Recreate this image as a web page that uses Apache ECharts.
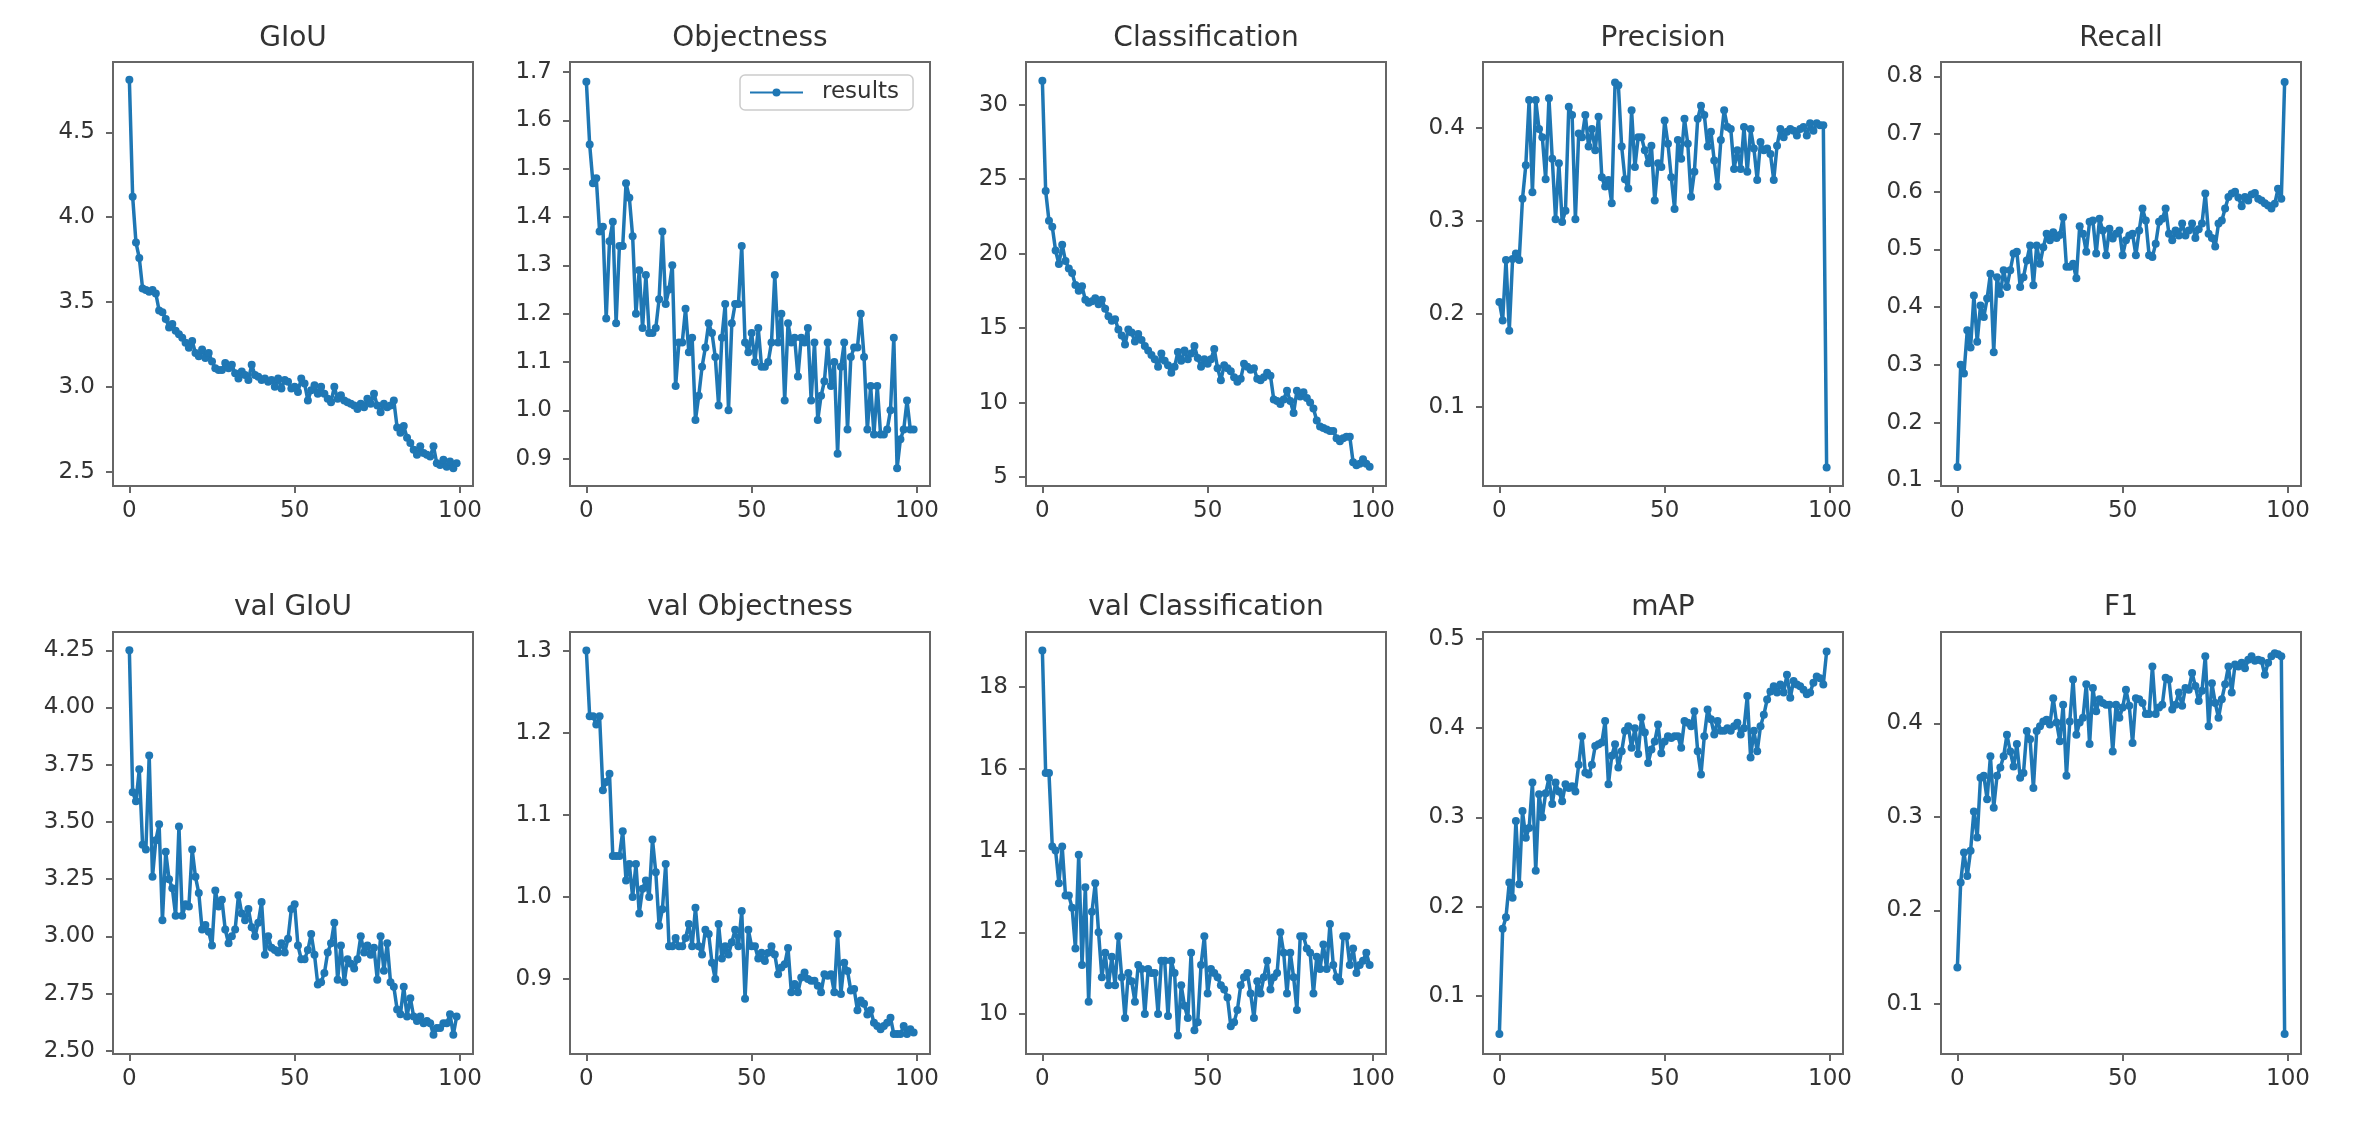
<!DOCTYPE html>
<html>
<head>
<meta charset="utf-8">
<script src="https://cdn.jsdelivr.net/npm/echarts@6/dist/echarts.min.js"></script>
<style>
html,body{margin:0;padding:0;background:#fff;}
#chart{width:2353px;height:1142px;}
</style>
</head>
<body>
<div id="chart"></div>
<script>
// ---------- data ----------
const titles = ['GIoU','Objectness','Classification','Precision','Recall',
                'val GIoU','val Objectness','val Classification','mAP','F1'];
const epochs = Array.from({length: 100}, (_, i) => i);
const xTicks = [0, 50, 100];
const xRange = [-4.95, 103.95];

const giou = [4.81,4.12,3.85,3.76,3.58,3.57,3.56,3.57,3.55,3.45,
 3.44,3.40,3.35,3.37,3.33,3.31,3.29,3.26,3.23,3.27,
 3.20,3.18,3.22,3.17,3.20,3.15,3.11,3.10,3.10,3.14,
 3.11,3.13,3.08,3.05,3.09,3.07,3.04,3.13,3.07,3.06,
 3.04,3.05,3.03,3.04,3.00,3.05,2.99,3.04,3.03,2.99,
 3.00,2.97,3.05,3.02,2.92,2.98,3.01,2.96,3.00,2.96,
 2.93,2.91,3.00,2.93,2.95,2.92,2.91,2.90,2.89,2.87,
 2.90,2.88,2.93,2.90,2.96,2.89,2.85,2.90,2.88,2.89,
 2.92,2.76,2.73,2.77,2.70,2.67,2.63,2.60,2.65,2.61,
 2.60,2.59,2.65,2.55,2.54,2.57,2.53,2.56,2.52,2.55];

const objectness = [1.68,1.55,1.47,1.48,1.37,1.38,1.19,1.35,1.39,1.18,
 1.34,1.34,1.47,1.44,1.36,1.20,1.29,1.17,1.28,1.16,
 1.16,1.17,1.23,1.37,1.22,1.25,1.30,1.05,1.14,1.14,
 1.21,1.12,1.15,0.98,1.03,1.09,1.13,1.18,1.16,1.11,
 1.01,1.15,1.22,1.00,1.18,1.22,1.22,1.34,1.14,1.12,
 1.16,1.10,1.17,1.09,1.09,1.10,1.14,1.28,1.14,1.20,
 1.02,1.18,1.14,1.15,1.07,1.15,1.14,1.17,1.02,1.14,
 0.98,1.03,1.06,1.14,1.05,1.10,0.91,1.09,1.14,0.96,
 1.11,1.13,1.13,1.20,1.11,0.96,1.05,0.95,1.05,0.95,
 0.95,0.96,1.00,1.15,0.88,0.94,0.96,1.02,0.96,0.96];

const classification = [31.6,24.2,22.2,21.8,20.2,19.3,20.6,19.5,19.0,18.7,
 17.9,17.5,17.8,16.9,16.7,16.8,17.0,16.6,16.9,16.3,
 15.8,15.5,15.6,14.9,14.5,13.9,14.9,14.7,14.1,14.6,
 14.2,13.8,13.5,13.2,12.9,12.4,13.3,12.8,12.5,12.0,
 12.4,13.4,12.8,13.5,12.9,13.3,13.8,13.0,12.4,12.9,
 12.6,12.9,13.6,12.3,11.5,12.5,12.3,12.1,11.7,11.4,
 11.6,12.6,12.4,12.2,12.3,11.6,11.5,11.7,12.0,11.8,
 10.2,10.1,9.9,10.2,10.8,10.1,9.3,10.8,10.4,10.7,
 10.3,10.0,9.6,8.8,8.4,8.3,8.2,8.1,8.1,7.6,
 7.4,7.6,7.7,7.7,6.0,5.8,5.9,6.2,5.9,5.7];

const precision = [0.213,0.193,0.258,0.182,0.259,0.265,0.258,0.324,0.360,0.430,
 0.331,0.430,0.399,0.390,0.345,0.432,0.367,0.302,0.362,0.299,
 0.311,0.423,0.414,0.302,0.394,0.390,0.414,0.380,0.399,0.376,
 0.412,0.347,0.337,0.344,0.319,0.449,0.446,0.380,0.345,0.335,
 0.419,0.358,0.390,0.390,0.376,0.362,0.381,0.322,0.362,0.358,
 0.408,0.383,0.347,0.313,0.387,0.367,0.410,0.383,0.326,0.353,
 0.410,0.424,0.414,0.380,0.396,0.365,0.337,0.387,0.419,0.401,
 0.399,0.356,0.376,0.356,0.401,0.353,0.399,0.378,0.344,0.385,
 0.376,0.378,0.372,0.344,0.381,0.399,0.390,0.396,0.399,0.397,
 0.392,0.399,0.401,0.392,0.405,0.397,0.405,0.403,0.403,0.035];

const recall = [0.123,0.300,0.285,0.360,0.330,0.420,0.340,0.403,0.383,0.415,
 0.458,0.322,0.452,0.423,0.464,0.435,0.464,0.493,0.496,0.435,
 0.452,0.481,0.507,0.438,0.507,0.475,0.504,0.527,0.516,0.530,
 0.520,0.525,0.556,0.470,0.470,0.475,0.450,0.540,0.527,0.496,
 0.548,0.550,0.493,0.553,0.533,0.490,0.536,0.519,0.527,0.533,
 0.490,0.516,0.524,0.527,0.490,0.533,0.571,0.550,0.490,0.487,
 0.510,0.548,0.553,0.571,0.527,0.516,0.533,0.524,0.545,0.524,
 0.533,0.545,0.520,0.535,0.545,0.597,0.527,0.520,0.505,0.545,
 0.550,0.571,0.591,0.597,0.600,0.590,0.575,0.591,0.585,0.595,
 0.598,0.588,0.585,0.580,0.576,0.571,0.579,0.605,0.588,0.790];

const valGiou = [4.25,3.63,3.59,3.73,3.40,3.38,3.79,3.26,3.42,3.49,
 3.07,3.37,3.25,3.21,3.09,3.48,3.09,3.14,3.13,3.38,
 3.26,3.19,3.03,3.05,3.02,2.96,3.20,3.13,3.16,3.03,
 2.97,3.00,3.03,3.18,3.10,3.07,3.12,3.04,3.00,3.06,
 3.15,2.92,3.00,2.95,2.94,2.93,2.97,2.93,2.99,3.12,
 3.14,2.96,2.90,2.90,2.94,3.01,2.92,2.79,2.80,2.84,
 2.93,2.97,3.06,2.81,2.96,2.80,2.90,2.88,2.86,2.90,
 3.00,2.93,2.96,2.92,2.95,2.81,3.00,2.85,2.97,2.80,
 2.78,2.68,2.66,2.78,2.65,2.73,2.65,2.63,2.65,2.62,
 2.63,2.62,2.57,2.60,2.60,2.62,2.62,2.66,2.57,2.65];

const valObjectness = [1.300,1.220,1.220,1.210,1.220,1.130,1.140,1.150,1.050,1.050,
 1.050,1.080,1.020,1.040,1.000,1.040,0.980,1.010,1.020,1.000,
 1.070,1.030,0.965,0.985,1.040,0.940,0.940,0.950,0.940,0.940,
 0.950,0.967,0.940,0.987,0.940,0.930,0.960,0.955,0.920,0.900,
 0.967,0.925,0.940,0.930,0.945,0.960,0.940,0.983,0.876,0.960,
 0.940,0.940,0.925,0.932,0.922,0.932,0.940,0.930,0.906,0.914,
 0.918,0.938,0.884,0.894,0.884,0.902,0.908,0.900,0.898,0.898,
 0.892,0.884,0.906,0.904,0.906,0.884,0.955,0.882,0.920,0.910,
 0.886,0.888,0.862,0.874,0.870,0.857,0.862,0.847,0.843,0.839,
 0.843,0.847,0.853,0.833,0.833,0.833,0.843,0.833,0.839,0.835];

const valClassification = [18.9,15.9,15.9,14.1,14.0,13.2,14.1,12.9,12.9,12.6,
 11.6,13.9,11.2,13.1,10.3,12.5,13.2,12.0,10.9,11.5,
 10.7,11.4,10.7,11.9,10.9,9.9,11.0,10.8,10.3,11.2,
 11.1,10.0,11.1,11.0,11.0,10.0,11.3,11.3,9.95,11.3,
 11.0,9.47,10.7,10.2,9.9,11.5,9.6,9.8,11.2,11.9,
 10.5,11.1,11.0,10.9,10.7,10.6,10.4,9.7,9.8,10.1,
 10.7,10.9,11.0,10.5,9.9,10.8,10.5,10.9,11.3,10.6,
 10.9,11.0,12.0,11.5,10.5,11.5,10.9,10.1,11.9,11.9,
 11.6,11.5,10.5,11.4,11.1,11.7,11.1,12.2,11.2,10.9,
 10.8,11.9,11.9,11.2,11.6,11.0,11.2,11.3,11.5,11.2];

const mAP = [0.057,0.175,0.188,0.227,0.210,0.296,0.225,0.307,0.277,0.288,
 0.339,0.240,0.326,0.300,0.327,0.344,0.315,0.339,0.329,0.318,
 0.337,0.333,0.335,0.329,0.359,0.391,0.350,0.348,0.359,0.380,
 0.382,0.384,0.408,0.337,0.369,0.382,0.356,0.374,0.397,0.402,
 0.378,0.400,0.371,0.412,0.395,0.361,0.376,0.385,0.404,0.372,
 0.385,0.391,0.389,0.391,0.391,0.378,0.408,0.406,0.402,0.419,
 0.374,0.348,0.391,0.421,0.410,0.393,0.408,0.397,0.397,0.400,
 0.397,0.402,0.406,0.393,0.400,0.436,0.367,0.397,0.374,0.402,
 0.415,0.432,0.441,0.447,0.440,0.449,0.440,0.460,0.434,0.453,
 0.449,0.447,0.443,0.438,0.440,0.451,0.458,0.456,0.449,0.486];

const f1 = [0.139,0.230,0.262,0.237,0.264,0.306,0.278,0.342,0.344,0.319,
 0.365,0.310,0.344,0.353,0.365,0.388,0.370,0.354,0.378,0.342,
 0.347,0.392,0.383,0.331,0.392,0.397,0.402,0.404,0.399,0.427,
 0.401,0.381,0.420,0.344,0.402,0.447,0.388,0.401,0.406,0.442,
 0.378,0.438,0.413,0.426,0.422,0.420,0.420,0.370,0.420,0.406,
 0.417,0.436,0.419,0.379,0.427,0.426,0.422,0.410,0.410,0.461,
 0.410,0.417,0.420,0.449,0.447,0.415,0.420,0.433,0.419,0.438,
 0.436,0.454,0.440,0.424,0.435,0.472,0.397,0.443,0.422,0.406,
 0.426,0.442,0.461,0.433,0.463,0.461,0.465,0.459,0.468,0.472,
 0.467,0.468,0.467,0.452,0.465,0.472,0.475,0.474,0.472,0.068];

const seriesValues = [giou, objectness, classification, precision, recall,
                      valGiou, valObjectness, valClassification, mAP, f1];

// y axis limits and tick labels per panel
const yLimits = [[2.416,4.914],[0.8433,1.7207],[4.4,32.86],[0.015,0.471],[0.0901,0.8248],
                 [2.486,4.33],[0.8088,1.3226],[9.02,19.35],[0.0347,0.5078],[0.0466,0.4978]];
const yTicks = [
  [2.5,3.0,3.5,4.0,4.5],
  [0.9,1.0,1.1,1.2,1.3,1.4,1.5,1.6,1.7],
  [5,10,15,20,25,30],
  [0.1,0.2,0.3,0.4],
  [0.1,0.2,0.3,0.4,0.5,0.6,0.7,0.8],
  [2.5,2.75,3.0,3.25,3.5,3.75,4.0,4.25],
  [0.9,1.0,1.1,1.2,1.3],
  [10,12,14,16,18],
  [0.1,0.2,0.3,0.4,0.5],
  [0.1,0.2,0.3,0.4]
];
const yDecimals = [1,1,0,1,1,2,1,0,1,1];
const legendLabel = 'results';

// ---------- layout / style ----------
const FONT = 'DejaVu Sans';
const lefts = [113, 570, 1026, 1483, 1941];
const tops = [62, 632];
const heights = [424, 422];
const W = 360;
const titleTops = [25, 594];
const BLUE = '#1f77b4';
const AXC = '#666';
const TXT = '#333';

const grids = [], xAxes = [], yAxes = [], series = [], titleOpts = [];
for (let i = 0; i < 10; i++) {
  const r = Math.floor(i / 5), c = i % 5;
  grids.push({
    left: lefts[c], top: tops[r], width: W, height: heights[r],
    show: true, borderColor: AXC, borderWidth: 2, backgroundColor: '#fff',
    containLabel: false
  });
  xAxes.push({
    type: 'value', gridIndex: i, min: xRange[0], max: xRange[1],
    axisLine: {show: false, onZero: false}, splitLine: {show: false},
    axisTick: {show: true, length: 7, lineStyle: {color: AXC, width: 2}, customValues: xTicks},
    axisLabel: {customValues: xTicks, color: TXT, fontSize: 23, fontFamily: FONT, margin: 14,
                formatter: v => String(Math.round(v))}
  });
  const dec = yDecimals[i];
  yAxes.push({
    type: 'value', gridIndex: i, min: yLimits[i][0], max: yLimits[i][1],
    axisLine: {show: false, onZero: false}, splitLine: {show: false},
    axisTick: {show: true, length: 7, lineStyle: {color: AXC, width: 2}, customValues: yTicks[i]},
    axisLabel: {customValues: yTicks[i], color: TXT, fontSize: 23, fontFamily: FONT, margin: 18,
                formatter: v => Number(v).toFixed(dec)}
  });
  series.push({
    name: legendLabel, type: 'line', xAxisIndex: i, yAxisIndex: i,
    data: seriesValues[i].map((v, k) => [epochs[k], v]),
    symbol: 'circle', symbolSize: 8, showSymbol: true,
    lineStyle: {color: BLUE, width: 3.5}, itemStyle: {color: BLUE},
    emphasis: {disabled: true}, animation: false
  });
  titleOpts.push({
    text: titles[i], left: lefts[c] + W / 2, top: titleTops[r], textAlign: 'center', padding: 0,
    textStyle: {fontSize: 28, fontWeight: 'normal', color: TXT, fontFamily: FONT}
  });
}

const chart = echarts.init(document.getElementById('chart'), null, {renderer: 'canvas'});
chart.setOption({
  backgroundColor: '#fff',
  animation: false,
  title: titleOpts,
  grid: grids,
  xAxis: xAxes,
  yAxis: yAxes,
  legend: {
    data: [legendLabel], left: 740, top: 75,
    padding: [6, 14, 6, 9], itemWidth: 53, itemHeight: 10,
    backgroundColor: '#fff', borderColor: '#ccc', borderWidth: 1.5, borderRadius: 5,
    textStyle: {fontSize: 23, color: TXT, fontFamily: FONT, padding: [0, 0, 0, 14]},
    selectedMode: false
  },
  series: series
});
</script>
</body>
</html>
